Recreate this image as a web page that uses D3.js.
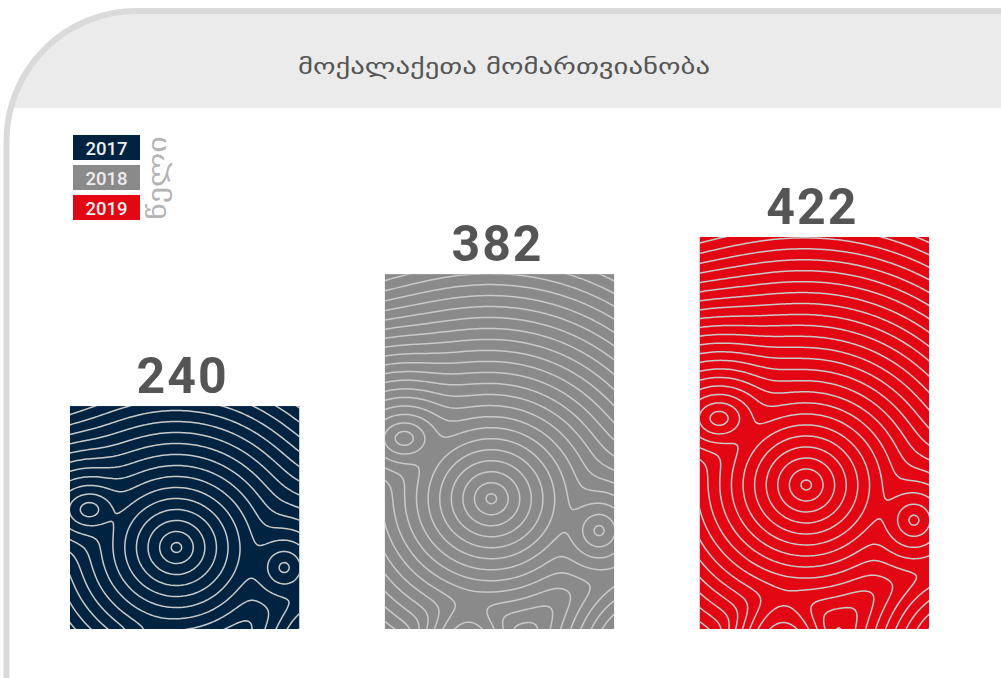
<!DOCTYPE html>
<html><head><meta charset="utf-8">
<script src="https://cdn.jsdelivr.net/npm/d3@7"></script>
<style>html,body{margin:0;padding:0;background:#fff;overflow:hidden}</style>
</head><body>
<svg id="c" width="1001" height="678"></svg>
<script>
const title = "მოქალაქეთა მომართვიანობა";
const axisLabel = "წელი";
const years = ["2017", "2018", "2019"];
const values = [240, 382, 422];
const colors = ["#002341", "#8a8a8a", "#e30613"];

const W = 1001, H = 678;
const svg = d3.select("#c");
const defs = svg.append("defs");

// card shape
const R = 130, bx = 6.5, by = 11;
const cardPath = `M${bx},${H + 10} L${bx},${by + R} A${R},${R} 0 0 1 ${bx + R},${by} L${W + 10},${by}`;
defs.append("clipPath").attr("id", "cardClip").append("path")
  .attr("d", cardPath + ` L${W + 10},${H + 10} Z`);
svg.append("rect").attr("x", 0).attr("y", 0).attr("width", W).attr("height", 108)
  .attr("fill", "#ebebeb").attr("clip-path", "url(#cardClip)");
svg.append("path").attr("d", cardPath).attr("fill", "none")
  .attr("stroke", "#dadada").attr("stroke-width", 6);

svg.append("text").attr("x", 504).attr("y", 74).attr("text-anchor", "middle")
  .attr("font-family", "DejaVu Sans").attr("font-size", 21).attr("fill", "#555")
  .attr("textLength", 412).attr("lengthAdjust", "spacingAndGlyphs")
  .text(title);

// scales
const x = d3.scaleBand().domain(years).range([70, 929]).paddingInner(0.272).paddingOuter(0);
const y = d3.scaleLinear().domain([0, 422]).range([629, 237]);

// fingerprint-like contour field (decorative texture)
function field(w, h, cell, margin) {
  const n = Math.ceil((w + 2 * margin) / cell), m = Math.ceil((h + 2 * margin) / cell);
  const centers = [
    {x: 0.46 * w, y: 0.63 * h, sx: 0.95, sy: 1.0, o: 0},
    {x: 0.36 * w, y: h + 170, sx: 2.6, sy: 0.75, o: -40},
    {x: 1.15 * w, y: h + 40, sx: 1.2, sy: 1.0, o: -10},
    {x: 0.08 * w, y: 0.46 * h, sx: 1, sy: 1.3, o: 40},
    {x: 0.93 * w, y: 0.72 * h, sx: 1, sy: 1, o: 44}
  ];
  const k = 10;
  const vals = new Float64Array(n * m);
  for (let j = 0; j < m; j++) for (let i = 0; i < n; i++) {
    const px = i * cell - margin, py = j * cell - margin;
    let s = 0;
    for (const c of centers) {
      const dx = (px - c.x) * c.sx, dy = (py - c.y) * c.sy;
      const r = Math.sqrt(dx * dx + dy * dy) + c.o;
      s += Math.exp(-r / k);
    }
    vals[j * n + i] = -k * Math.log(s);
  }
  return {n, m, vals};
}

const g = svg.append("g");
years.forEach((yr, i) => {
  const x0 = x(yr), w = x.bandwidth(), y0 = y(values[i]), h = y(0) - y(values[i]);
  const id = "clip" + i;
  defs.append("clipPath").attr("id", id).append("rect")
    .attr("x", x0).attr("y", y0).attr("width", w).attr("height", h);
  g.append("rect").attr("x", x0).attr("y", y0).attr("width", w).attr("height", h)
    .attr("fill", colors[i]);
  const cell = 2, margin = 10;
  const f = field(w, h, cell, margin);
  const th = d3.range(5, 600, 11);
  const cs = d3.contours().size([f.n, f.m]).thresholds(th)(f.vals);
  const path = d3.geoPath(d3.geoIdentity().scale(cell).translate([x0 - margin, y0 - margin]));
  g.append("g").attr("clip-path", `url(#${id})`)
    .selectAll("path").data(cs).join("path")
    .attr("d", path).attr("fill", "none").attr("stroke", "#c9c9c9").attr("stroke-width", 1.5);
  svg.append("text").attr("x", x0 + w / 2 - 2).attr("y", y0 - 13).attr("text-anchor", "middle")
    .attr("font-family", "Roboto").attr("font-weight", 700).attr("font-size", 50)
    .attr("letter-spacing", 2).attr("fill", "#555").text(values[i]);
});

// legend
const lg = svg.append("g");
years.forEach((yr, i) => {
  lg.append("rect").attr("x", 73).attr("y", 135 + i * 30).attr("width", 67).attr("height", 25)
    .attr("fill", colors[i]);
  lg.append("text").attr("x", 106.5).attr("y", 154.5 + i * 30).attr("text-anchor", "middle")
    .attr("font-family", "Roboto").attr("font-weight", 500).attr("font-size", 18.5)
    .attr("fill", "#eee").text(yr);
});
lg.append("text").attr("transform", "translate(166,178) rotate(-90)").attr("text-anchor", "middle")
  .attr("font-family", "DejaVu Sans").attr("font-size", 26).attr("fill", "#b3b3b3")
  .attr("textLength", 84).attr("lengthAdjust", "spacingAndGlyphs").text(axisLabel);
</script>
</body></html>
